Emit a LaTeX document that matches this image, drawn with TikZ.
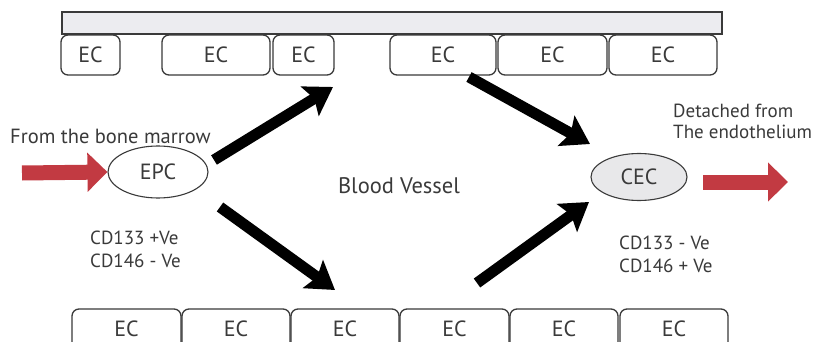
\documentclass[tikz,border=0pt]{standalone}
\usepackage{fontspec}
\setmainfont{PT Sans}
\usetikzlibrary{arrows.meta,shapes.geometric}
\definecolor{ink}{HTML}{3A3A3A}
\definecolor{redarrow}{HTML}{C23A42}
\definecolor{barfill}{HTML}{ECECF0}
\definecolor{cecfill}{HTML}{E8E8EA}
\begin{document}
\begin{tikzpicture}[x=1pt,y=-1pt,
  ecbox/.style={draw=ink, line width=1.3pt, rounded corners=7pt, inner sep=0pt,
    font=\fontsize{22}{26}\selectfont, text=ink},
  topbox/.style={ecbox, minimum height=40pt},
  botbox/.style={ecbox, minimum height=40pt},
  cell/.style={ellipse, draw=ink, line width=1.1pt, inner sep=0pt,
    font=\fontsize{22}{26}\selectfont, text=ink},
  lbl/.style={text=ink, inner sep=0pt},
  redarr/.style={draw=redarrow, line width=15pt, -{Triangle[length=20pt,width=38pt]}},
  blkarr/.style={draw=black, line width=11pt, -{Stealth[length=27pt,width=34pt,inset=5pt]}}]
\useasboundingbox (0,0) rectangle (816,342);
\fill[white] (0,0) rectangle (816,342);
\clip (0,0) rectangle (816,342);
% vessel wall
\node[draw=ink, line width=1.3pt, fill=barfill, minimum width=660pt, minimum height=22pt, inner sep=0pt] (bar) at (392,23) {};
% top endothelial cells
\node[topbox, minimum width=59pt] (t1) at (90.5,55) {EC};
\node[topbox, minimum width=108pt] (t2) at (216,55) {EC};
\node[topbox, minimum width=61pt] (t3) at (303.5,55) {EC};
\node[topbox, minimum width=106pt] (t4) at (443,55) {EC};
\node[topbox, minimum width=109pt] (t5) at (552.5,55) {EC};
\node[topbox, minimum width=108pt] (t6) at (663,55) {EC};
% bottom endothelial cells
\node[botbox, minimum width=109pt] (b1) at (126.5,329) {EC};
\node[botbox, minimum width=108pt] (b2) at (236,329) {EC};
\node[botbox, minimum width=108pt] (b3) at (345,329) {EC};
\node[botbox, minimum width=109pt] (b4) at (454.5,329) {EC};
\node[botbox, minimum width=108pt] (b5) at (564,329) {EC};
\node[botbox, minimum width=108pt] (b6) at (674,329) {EC};
% cells
\node[cell, minimum width=100pt, minimum height=52pt] (epc) at (158,172) {EPC};
\node[cell, fill=cecfill, minimum width=96pt, minimum height=47pt] (cec) at (639,177) {CEC};
% labels
\node[lbl, anchor=west, font=\fontsize{20.5}{24}\selectfont] (bm) at (10,136) {From the bone marrow};
\node[lbl, font=\fontsize{22.5}{26}\selectfont] (bv) at (399,186) {Blood Vessel};
\node[lbl, anchor=north west, align=left, font=\fontsize{19}{21}\selectfont] (det) at (673,104) {Detached from\\The endothelium};
\node[lbl, anchor=north west, align=left, font=\fontsize{19}{23}\selectfont] (mk1) at (90,231) {CD133 +Ve\\CD146 - Ve};
\node[lbl, anchor=north west, align=left, font=\fontsize{19}{23}\selectfont] (mk2) at (619,236) {CD133 - Ve\\CD146 + Ve};
% arrow ends
\coordinate (rin) at (22,173);
\coordinate (rs) at (703,182);
\coordinate (re) at (788,182);
\coordinate (a1s) at (214,160);
\coordinate (a1e) at (333,87);
\coordinate (a2s) at (469,77);
\coordinate (a2e) at (590,144);
\coordinate (a3s) at (220,207);
\coordinate (a3e) at (335,290);
\coordinate (a4s) at (477,283);
\coordinate (a4e) at (589,202);
% arrows
\draw[redarr] (rin) -- (epc.west);
\draw[redarr] (rs) -- (re);
\draw[blkarr] (a1s) -- (a1e);
\draw[blkarr] (a2s) -- (a2e);
\draw[blkarr] (a3s) -- (a3e);
\draw[blkarr] (a4s) -- (a4e);
\end{tikzpicture}
\end{document}
